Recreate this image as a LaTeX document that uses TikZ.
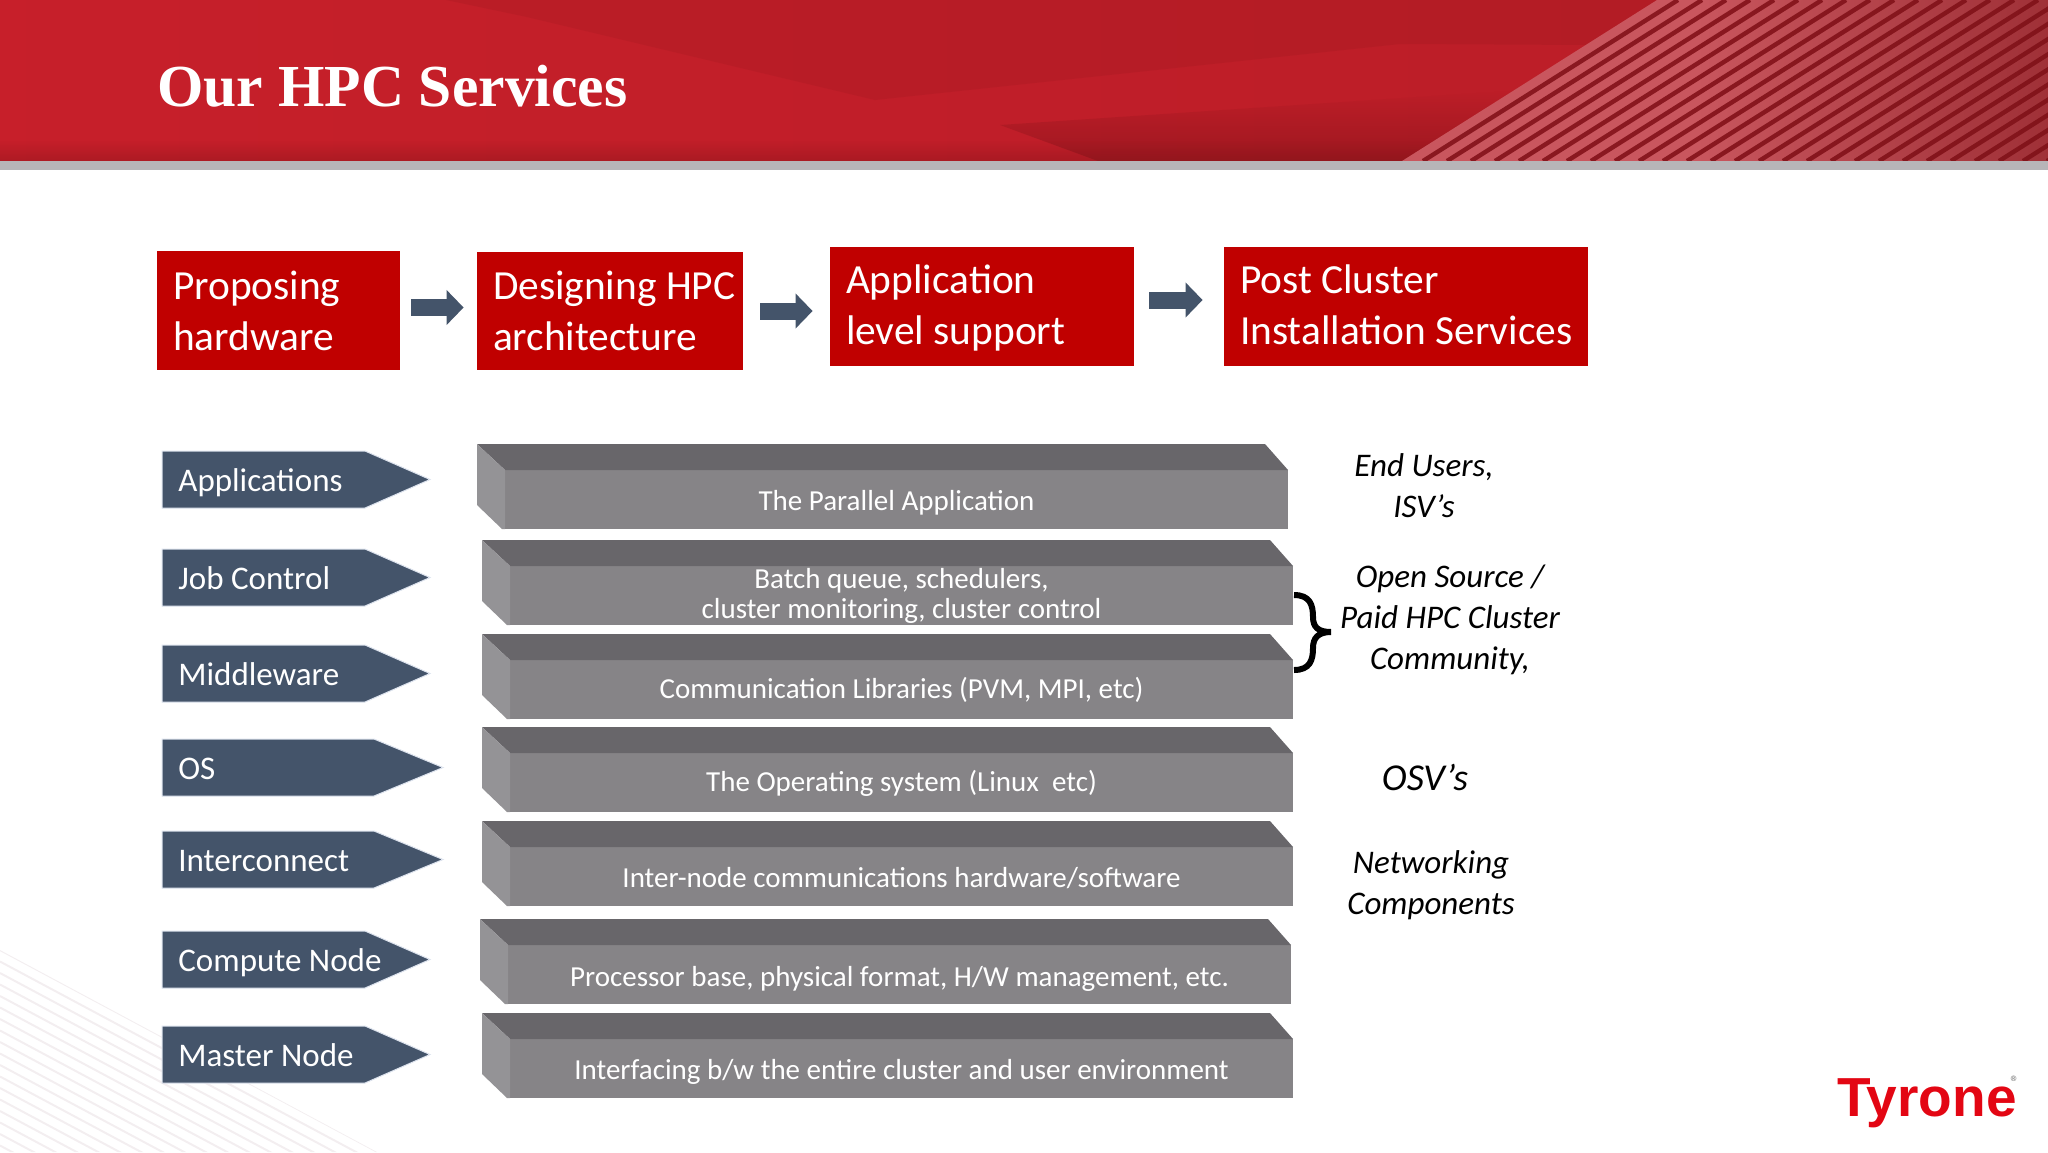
\documentclass[tikz,border=0pt]{standalone}
\usepackage{fontspec}
\setmainfont{Carlito}
\newfontfamily\titlefont{Liberation Serif}
\newfontfamily\logofont{Liberation Sans}
\usetikzlibrary{arrows.meta,fadings,calc}
\definecolor{hdrdark}{HTML}{7E1218}
\definecolor{stripelight}{HTML}{C9565E}
\definecolor{stripedark}{HTML}{8A1820}
\definecolor{bandgrey}{HTML}{B7B5B8}
\definecolor{boxred}{HTML}{C00000}
\definecolor{navy}{HTML}{44546A}
\definecolor{navyedge}{HTML}{DDE3EE}
\definecolor{slabfront}{HTML}{868487}
\definecolor{slabtop}{HTML}{68666A}
\definecolor{slabside}{HTML}{949396}
\definecolor{palestripe}{HTML}{F3EEF0}
\definecolor{logored}{HTML}{E30613}
\definecolor{hsa}{HTML}{B01A22}
\definecolor{hsb}{HTML}{C81F2A}
\definecolor{hsc}{HTML}{BC1E28}
\definecolor{hsd}{HTML}{A81C22}
\definecolor{hse}{HTML}{8C1A1E}
\pgfdeclarehorizontalshading{hdrshade}{100bp}{
  color(0bp)=(hsa);
  color(20bp)=(hsb);
  color(65bp)=(hsc);
  color(80bp)=(hsd);
  color(100bp)=(hse)}
\tikzset{
  redbox/.style={fill=boxred,inner sep=0pt},
  redtext/.style={text=white,inner sep=0pt,align=left,
    font=\fontsize{20.7}{25.5}\selectfont},
  flow/.style={draw=navy,line width=8.5pt,-{Triangle[length=8.5pt,width=17pt]}},
  chevfill/.style={fill=navy,draw=navyedge,line width=0.5pt},
  chevtext/.style={text=white,anchor=base west,inner sep=0pt,font=\fontsize{16.5}{20}\selectfont},
  slabtext/.style={text=white,inner sep=0pt,align=center,
    font=\fontsize{14.5}{15}\selectfont},
  sidetext/.style={align=center,inner sep=0pt,font=\fontsize{16.5}{20.5}\selectfont\itshape}
}
% name, x1, y1, x2, y2, line 1, line 2, downward text shift
\newcommand{\redrect}[8]{%
  \pgfmathsetmacro{\bw}{(#4-#2)*0.5}\pgfmathsetmacro{\bh}{(#5-#3)*0.5}
  \node[redbox,minimum width=\bw pt,minimum height=\bh pt] (#1) at ({(#2+#4)/2},{(#3+#5)/2}) {};
  \node[redtext,anchor=west,xshift=8pt,yshift=-#8] (#1t) at (#1.west) {\strut #6\\\strut #7};}
\newcommand{\chev}[5]{%
  \fill[chevfill] (162,#2) -- (#3,#2) -- (#4,{#2+28.5}) -- (#3,{#2+57}) -- (162,{#2+57}) -- cycle;
  \node[chevtext] (#1) at (178,{#2+40.5}) {#5};}
% name, left, top, right, text shift, text
\newcommand{\slab}[6]{%
  \fill[slabfront] ({#2+28},{#3+26}) rectangle (#4,{#3+85});
  \fill[slabtop] (#2,#3) -- ({#4-23},#3) -- (#4,{#3+26}) -- ({#2+28},{#3+26}) -- cycle;
  \fill[slabside] (#2,#3) -- ({#2+28},{#3+26}) -- ({#2+28},{#3+85}) -- ({#2+25},{#3+85}) -- (#2,{#3+61}) -- cycle;
  \node[slabtext] (#1) at ({(#2+28+#4)/2},{#3+55.5+#5}) {#6};}
\begin{document}
\begin{tikzpicture}[x=0.5pt,y=-0.5pt]
\useasboundingbox (0,0) rectangle (2048,1152);
% bottom-left pale stripes
\begin{scope}
  \clip (0,950) -- (377,1152) -- (0,1152) -- cycle;
  \foreach \i in {0,...,18} \draw[palestripe,line width=1pt] (0,{950+11.5*\i}) -- (400,{1164+11.5*\i});
\end{scope}
% header
\shade[shading=hdrshade] (0,0) rectangle (2048,161);
\fill[hdrdark,opacity=0.13] (446,0) -- (1660,0) -- (1590,45) -- (1400,44) -- (875,100) -- (527,17) -- cycle;
\fill[hdrdark,path fading=north,opacity=0.5] (1000,125) -- (1520,90) -- (1520,161) -- (1098,161) -- cycle;
\fill[hdrdark,path fading=north,opacity=0.35] (0,140) rectangle (2048,161);
\begin{scope}
  \clip (1402,161) -- (1657,0) -- (2048,0) -- (2048,161) -- cycle;
  \fill[stripelight] (1300,0) rectangle (2048,161);
  \foreach \i in {0,...,28} \draw[stripedark,line width=2.2pt] ({1423+24*\i},161) -- ({1678+24*\i},0);
  \fill[hdrdark,path fading=west,opacity=0.55] (1700,0) rectangle (2048,161);
\end{scope}
\fill[bandgrey] (0,161) rectangle (2048,170);
\node[text=white,anchor=base west,inner sep=0pt,font=\titlefont\bfseries\fontsize{29.8}{31}\selectfont] (title) at (157,106) {Our HPC Services};
% process boxes
\redrect{p1}{157}{251}{400}{370}{Proposing}{hardware}{2pt}
\redrect{p2}{477}{252}{743}{370}{Designing HPC}{architecture}{2pt}
\redrect{p3}{830}{247}{1134}{366}{Application}{level support}{1.3pt}
\redrect{p4}{1224}{247}{1588}{366}{Post Cluster}{Installation Services}{1.3pt}
\draw[flow,shorten <=5.5pt,shorten >=6.5pt] (p1.east |- 0,307.5) -- (p2.west |- 0,307.5);
\draw[flow,shorten <=8.5pt,shorten >=8.5pt] (p2.east |- 0,311) -- (p3.west |- 0,311);
\draw[flow,shorten <=7.5pt,shorten >=10.5pt] (p3.east |- 0,300) -- (p4.west |- 0,300);
% left labels
\chev{c1}{451}{365}{430}{Applications}
\chev{c2}{549}{365}{430}{Job Control}
\chev{c3}{645}{365}{430}{Middleware}
\chev{c4}{739}{374}{443}{OS}
\chev{c5}{831}{374}{443}{Interconnect}
\chev{c6}{931}{365}{430}{Compute Node}
\chev{c7}{1026}{365}{430}{Master Node}
% slabs
\slab{s1}{477}{444}{1288}{3}{The Parallel Application}
\slab{s2}{482}{540}{1293}{0}{Batch queue, schedulers,\\cluster monitoring, cluster control}
\slab{s3}{482}{634}{1293}{0}{Communication Libraries (PVM, MPI, etc)}
\slab{s4}{482}{727}{1293}{1.3}{The Operating system (Linux~ etc)}
\slab{s5}{482}{821}{1293}{1.5}{Inter-node communications hardware/software}
\slab{s6}{480}{919}{1291}{4}{Processor base, physical format, H/W management, etc.}
\slab{s7}{482}{1013}{1293}{3.5}{Interfacing b/w the entire cluster and user environment}
% brace
\draw[black,line width=3pt] (1294,595) .. controls (1310,595) and (1313,605) .. (1313,617)
  .. controls (1313,627) and (1318,632) .. (1331,632)
  .. controls (1318,632) and (1313,638) .. (1313,648)
  .. controls (1313,660) and (1310,670) .. (1294,670);
% side labels
\node[sidetext] (e1) at (1424,486) {End Users,\\ISV’s};
\node[sidetext] (e2) at (1450,620) {Open Source /\\Paid HPC Cluster\\Community,};
\node[sidetext,font=\fontsize{19}{21}\selectfont\itshape] (e3) at (1425,777) {OSV’s};
\node[sidetext] (e4) at (1431,885) {Networking\\Components};
% logo
\node[text=logored,anchor=base west,inner sep=0pt,font=\logofont\bfseries\fontsize{27.5}{30}\selectfont] (logo) at (1837,1116) {Tyrone};
\node[text=gray,inner sep=0pt,font=\fontsize{9}{10}\selectfont] (reg) at (2015,1082) {®};
\end{tikzpicture}
\end{document}
